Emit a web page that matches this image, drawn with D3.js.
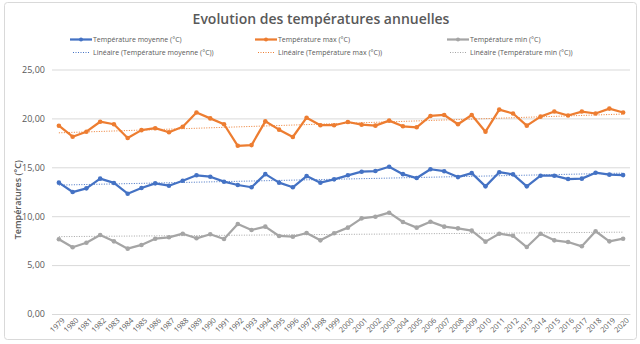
<!DOCTYPE html>
<html>
<head>
<meta charset="utf-8">
<script src="https://d3js.org/d3.v7.min.js"></script>
<style>
  body { margin: 0; background: #fff; }
  text { font-family: "Open Sans", sans-serif; fill: #595959; }
</style>
</head>
<body>
<div id="chart-area"></div>
<script>
  // Data
  var years = [1979, 1980, 1981, 1982, 1983, 1984, 1985, 1986, 1987, 1988, 1989, 1990,
               1991, 1992, 1993, 1994, 1995, 1996, 1997, 1998, 1999, 2000, 2001, 2002,
               2003, 2004, 2005, 2006, 2007, 2008, 2009, 2010, 2011, 2012, 2013, 2014,
               2015, 2016, 2017, 2018, 2019, 2020];
  var tempMoyenne = [13.43, 12.47, 12.85, 13.84, 13.4, 12.3, 12.88, 13.36, 13.12, 13.63, 14.18, 14.04,
                     13.53, 13.19, 12.96, 14.3, 13.43, 12.96, 14.1, 13.43, 13.77, 14.18, 14.55, 14.62,
                     15.06, 14.3, 13.9, 14.8, 14.6, 14.0, 14.4, 13.05, 14.5, 14.28, 13.05, 14.14,
                     14.14, 13.8, 13.84, 14.45, 14.25, 14.2];
  var tempMax = [19.25, 18.13, 18.64, 19.66, 19.4, 18.0, 18.8, 19.0, 18.58, 19.15, 20.6, 20.0,
                 19.4, 17.2, 17.27, 19.7, 18.85, 18.1, 20.07, 19.3, 19.3, 19.63, 19.36, 19.26,
                 19.77, 19.19, 19.09, 20.25, 20.35, 19.4, 20.35, 18.64, 20.9, 20.5, 19.26, 20.18,
                 20.7, 20.3, 20.7, 20.5, 21.0, 20.6];
  var tempMin = [7.64, 6.82, 7.29, 8.08, 7.43, 6.68, 7.06, 7.7, 7.84, 8.21, 7.74, 8.15,
                 7.67, 9.2, 8.59, 8.93, 7.98, 7.9, 8.28, 7.53, 8.25, 8.83, 9.78, 9.95,
                 10.36, 9.41, 8.83, 9.44, 8.93, 8.76, 8.52, 7.4, 8.21, 8.0, 6.85, 8.21,
                 7.53, 7.36, 6.92, 8.46, 7.43, 7.7];
  var yTicks = [0, 5, 10, 15, 20, 25];
  var seriesNames = ['Température moyenne (°C)', 'Température max (°C)', 'Température min (°C)'];
  var colors = ['#4472C4', '#ED7D31', '#A5A5A5'];

  var width = 640, height = 344;
  var plot = {left: 52, right: 630, top: 69.5, bottom: 314};

  var svg = d3.select('#chart-area')
              .append('svg')
              .attr('width', width)
              .attr('height', height);

  // chart frame
  svg.append('rect')
     .attr('x', 4.5).attr('y', 2.5)
     .attr('width', 632).attr('height', 337)
     .attr('rx', 3)
     .attr('fill', '#fff')
     .attr('stroke', '#d9d9d9');

  // Scales
  var x = d3.scalePoint()
            .domain(years)
            .range([plot.left, plot.right])
            .padding(0.5);
  var y = d3.scaleLinear()
            .domain([0, 25])
            .range([plot.bottom, plot.top]);

  // Gridlines + y labels
  var yAxisCall = d3.axisLeft(y)
                    .tickValues(yTicks)
                    .tickSize(-(plot.right - plot.left))
                    .tickPadding(7)
                    .tickFormat(function (d) { return d3.format('.2f')(d).replace('.', ','); });
  var yAxis = svg.append('g')
                 .attr('transform', 'translate(' + plot.left + ',0)')
                 .call(yAxisCall);
  yAxis.select('.domain').remove();
  yAxis.selectAll('line').attr('stroke', '#d9d9d9');
  yAxis.selectAll('text')
       .attr('font-size', '9px')
       .style('font-family', '"Open Sans", sans-serif')
       .attr('fill', '#595959');

  // x labels
  var xAxisCall = d3.axisBottom(x).tickSize(0).tickPadding(0);
  var xAxis = svg.append('g')
                 .attr('transform', 'translate(0,' + plot.bottom + ')')
                 .call(xAxisCall);
  xAxis.select('.domain').attr('stroke', '#d9d9d9');
  xAxis.selectAll('text')
       .attr('font-size', '7.5px')
       .style('font-family', '"Open Sans", sans-serif')
       .attr('fill', '#595959')
       .attr('text-anchor', 'end')
       .attr('y', 0).attr('dy', '0.35em')
       .attr('transform', 'translate(4,5) rotate(-45)');

  // Y axis title
  svg.append('text')
     .attr('transform', 'rotate(-90)')
     .attr('x', -(plot.top + plot.bottom) / 2 - 8)
     .attr('y', 21)
     .attr('text-anchor', 'middle')
     .attr('font-size', '9px')
     .attr('font-weight', 600)
     .text('Températures (°C)');

  // Title
  svg.append('text')
     .attr('x', 321)
     .attr('y', 24)
     .attr('text-anchor', 'middle')
     .attr('font-size', '14px')
     .attr('font-weight', 600)
     .text('Evolution des températures annuelles');

  // Linear trend (least squares, like the spreadsheet trendline)
  function trend(values) {
    var n = values.length, sx = 0, sy = 0, sxy = 0, sxx = 0;
    values.forEach(function (v, i) { sx += i; sy += v; sxy += i * v; sxx += i * i; });
    var b = (n * sxy - sx * sy) / (n * sxx - sx * sx);
    var a = (sy - b * sx) / n;
    return [{year: years[0], v: a}, {year: years[n - 1], v: a + b * (n - 1)}];
  }

  var allSeries = [tempMoyenne, tempMax, tempMin];
  var line = d3.line()
               .x(function (d) { return x(d.year); })
               .y(function (d) { return y(d.v); });

  allSeries.forEach(function (values, k) {
    var pts = values.map(function (v, i) { return {year: years[i], v: v}; });
    svg.append('path')
       .attr('d', line(trend(values)))
       .attr('fill', 'none')
       .attr('stroke', colors[k])
       .attr('stroke-width', 1)
       .attr('stroke-dasharray', '1,1.5');
    svg.append('path')
       .attr('d', line(pts))
       .attr('fill', 'none')
       .attr('stroke', colors[k])
       .attr('stroke-width', 2.25)
       .attr('stroke-linejoin', 'round');
    svg.append('g')
       .selectAll('circle')
       .data(pts)
       .enter().append('circle')
       .attr('cx', function (d) { return x(d.year); })
       .attr('cy', function (d) { return y(d.v); })
       .attr('r', 2.3)
       .attr('fill', colors[k]);
  });

  // Legend
  var legendX = [70, 255, 447];
  seriesNames.forEach(function (name, k) {
    var row = svg.append('g').attr('transform', 'translate(' + legendX[k] + ',0)');
    row.append('line')
       .attr('x1', 0).attr('x2', 22).attr('y1', 39.5).attr('y2', 39.5)
       .attr('stroke', colors[k]).attr('stroke-width', 2.25);
    row.append('circle')
       .attr('cx', 11).attr('cy', 39.5).attr('r', 2)
       .attr('fill', colors[k]);
    row.append('text')
       .attr('x', 23).attr('y', 39.5).attr('dy', '0.35em')
       .attr('font-size', '7px')
       .text(name);
    row.append('line')
       .attr('x1', 3).attr('x2', 20).attr('y1', 52.5).attr('y2', 52.5)
       .attr('stroke', colors[k]).attr('stroke-width', 1)
       .attr('stroke-dasharray', '1,1.5');
    row.append('text')
       .attr('x', 23).attr('y', 52.5).attr('dy', '0.35em')
       .attr('font-size', '7px')
       .text('Linéaire (' + name + ')');
  });
</script>
</body>
</html>
